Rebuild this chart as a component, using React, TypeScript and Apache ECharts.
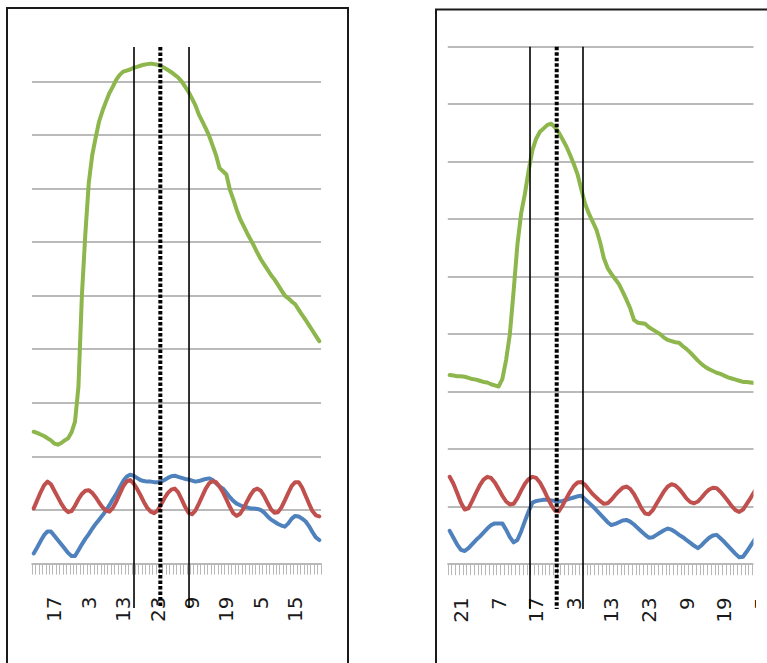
import React, { useEffect, useRef } from "react";
import * as echarts from "echarts";

// Hour-of-day categories (hourly samples)
const hoursLeft = [
  11, 12, 13, 14, 15, 16, 17, 18, 19, 20, 21, 22, 23,
  0, 1, 2, 3, 4, 5, 6, 7, 8, 9, 10, 11, 12, 13, 14, 15, 16, 17, 18, 19, 20, 21, 22, 23,
  0, 1, 2, 3, 4, 5, 6, 7, 8, 9, 10, 11, 12, 13, 14, 15, 16, 17, 18, 19, 20, 21, 22, 23,
  0, 1, 2, 3, 4, 5, 6, 7, 8, 9, 10, 11, 12, 13, 14, 15, 16, 17, 18, 19, 20, 21, 22,
];
const hoursRight = [
  18, 19, 20, 21, 22, 23,
  0, 1, 2, 3, 4, 5, 6, 7, 8, 9, 10, 11, 12, 13, 14, 15, 16, 17, 18, 19, 20, 21, 22, 23,
  0, 1, 2, 3, 4, 5, 6, 7, 8, 9, 10, 11, 12, 13, 14, 15, 16, 17, 18, 19, 20, 21, 22, 23,
  0, 1, 2, 3, 4, 5, 6, 7, 8, 9, 10, 11, 12, 13, 14, 15, 16, 17, 18, 19, 20, 21, 22, 23,
  0, 1, 2, 3, 4, 5,
];

// Left panel series (gridline units)
const greenLeft = [
  2.46, 2.44, 2.41, 2.38, 2.34, 2.30, 2.24, 2.22, 2.25, 2.30,
  2.34, 2.45, 2.65, 3.30, 5.00, 6.15, 7.10, 7.62, 7.95, 8.25,
  8.45, 8.62, 8.78, 8.90, 9.03, 9.12, 9.18, 9.20, 9.22, 9.25,
  9.27, 9.29, 9.31, 9.32, 9.33, 9.32, 9.31, 9.28, 9.25, 9.21,
  9.17, 9.12, 9.07, 9.00, 8.90, 8.80, 8.68, 8.55, 8.38, 8.25,
  8.12, 7.98, 7.80, 7.62, 7.38, 7.32, 7.26, 6.98, 6.80, 6.60,
  6.43, 6.30, 6.17, 6.05, 5.93, 5.80, 5.68, 5.58, 5.48, 5.38,
  5.30, 5.20, 5.10, 5.00, 4.95, 4.89, 4.84, 4.74, 4.64, 4.55,
  4.45, 4.35, 4.25, 4.15,
];
const redLeft = [
  1.03, 1.18, 1.33, 1.46, 1.53, 1.48, 1.36, 1.24, 1.12, 1.02,
  0.96, 0.98, 1.08, 1.20, 1.30, 1.36, 1.37, 1.32, 1.24, 1.14,
  1.05, 0.99, 0.97, 1.04, 1.16, 1.30, 1.44, 1.53, 1.56, 1.50,
  1.40, 1.28, 1.15, 1.04, 0.97, 0.94, 0.99, 1.10, 1.22, 1.32,
  1.38, 1.40, 1.33, 1.20, 1.06, 0.95, 0.92, 0.99, 1.12, 1.26,
  1.40, 1.50, 1.54, 1.52, 1.44, 1.33, 1.20, 1.06, 0.94, 0.89,
  0.93, 1.03, 1.16, 1.28, 1.37, 1.40, 1.36, 1.26, 1.13, 1.01,
  0.95, 0.96, 1.05, 1.18, 1.32, 1.45, 1.52, 1.52, 1.42, 1.27,
  1.12, 0.98, 0.90, 0.88,
];
const blueLeft = [
  0.19, 0.30, 0.42, 0.53, 0.60, 0.60, 0.52, 0.44, 0.36, 0.28,
  0.20, 0.14, 0.14, 0.25, 0.36, 0.46, 0.55, 0.65, 0.74, 0.82,
  0.90, 0.99, 1.09, 1.20, 1.30, 1.42, 1.54, 1.62, 1.66, 1.64,
  1.60, 1.56, 1.54, 1.53, 1.53, 1.52, 1.52, 1.53, 1.56, 1.60,
  1.63, 1.64, 1.62, 1.60, 1.58, 1.57, 1.55, 1.53, 1.54, 1.56,
  1.58, 1.59, 1.56, 1.50, 1.44, 1.40, 1.32, 1.24, 1.17, 1.12,
  1.09, 1.06, 1.05, 1.03, 1.03, 1.02, 1.00, 0.95, 0.88, 0.82,
  0.78, 0.74, 0.71, 0.69, 0.75, 0.84, 0.89, 0.88, 0.84, 0.79,
  0.70, 0.59, 0.49, 0.44,
];

// Right panel series (the panel is cropped at its right edge in the source)
const greenRight = [
  3.29, 3.28, 3.27, 3.27, 3.26, 3.24, 3.22, 3.21, 3.19, 3.17,
  3.16, 3.13, 3.11, 3.09, 3.22, 3.55, 4.00, 4.75, 5.55, 6.10,
  6.44, 6.85, 7.20, 7.40, 7.52, 7.58, 7.64, 7.66, 7.60, 7.51,
  7.39, 7.27, 7.12, 6.96, 6.78, 6.52, 6.27, 6.10, 5.96, 5.82,
  5.60, 5.32, 5.15, 5.05, 4.96, 4.87, 4.74, 4.60, 4.45, 4.25,
  4.20, 4.19, 4.18, 4.12, 4.08, 4.04, 4.00, 3.94, 3.90, 3.88,
  3.86, 3.85, 3.79, 3.74, 3.68, 3.61, 3.54, 3.48, 3.43, 3.39,
  3.36, 3.33, 3.31, 3.28, 3.25, 3.23, 3.21, 3.19, 3.17, 3.17,
  3.16, 3.15, 3.15, 3.14,
];
const redRight = [
  1.52, 1.40, 1.24, 1.07, 0.95, 0.97, 1.10, 1.24, 1.37, 1.47,
  1.52, 1.50, 1.42, 1.31, 1.19, 1.09, 1.04, 1.05, 1.15, 1.28,
  1.40, 1.48, 1.52, 1.50, 1.42, 1.30, 1.16, 1.03, 0.93, 0.92,
  1.02, 1.14, 1.26, 1.36, 1.42, 1.43, 1.38, 1.30, 1.22, 1.16,
  1.10, 1.05, 1.06, 1.12, 1.20, 1.27, 1.33, 1.35, 1.31, 1.22,
  1.10, 0.97, 0.88, 0.87, 0.94, 1.05, 1.16, 1.27, 1.35, 1.39,
  1.37, 1.31, 1.23, 1.14, 1.08, 1.06, 1.09, 1.16, 1.24, 1.30,
  1.33, 1.32, 1.26, 1.18, 1.10, 1.01, 0.94, 0.91, 0.95, 1.05,
  1.15, 1.26, 1.36, 1.42,
];
const blueRight = [
  0.58, 0.46, 0.34, 0.25, 0.23, 0.28, 0.35, 0.42, 0.48, 0.55,
  0.62, 0.68, 0.71, 0.71, 0.71, 0.60, 0.47, 0.38, 0.42, 0.57,
  0.75, 0.92, 1.07, 1.10, 1.11, 1.12, 1.12, 1.11, 1.10, 1.09,
  1.10, 1.12, 1.14, 1.16, 1.18, 1.19, 1.13, 1.07, 1.01, 0.94,
  0.87, 0.80, 0.73, 0.68, 0.70, 0.73, 0.76, 0.77, 0.74, 0.69,
  0.63, 0.57, 0.51, 0.46, 0.47, 0.51, 0.55, 0.59, 0.62, 0.60,
  0.56, 0.51, 0.47, 0.42, 0.37, 0.32, 0.28, 0.33, 0.40, 0.46,
  0.50, 0.51, 0.45, 0.39, 0.32, 0.25, 0.18, 0.12, 0.13, 0.22,
  0.32, 0.42, 0.50, 0.55,
];

// Vertical marker positions (category index units): solid, dotted, solid
const markersLeft = [29.15, 36.8, 45.14];
const markersRight = [21.36, 28.46, 35.45];

const BLUE = "#4F81BD";
const RED = "#C0504D";
const GREEN = "#8DB64C";

export default function App() {
  const ref = useRef<HTMLDivElement>(null);

  useEffect(() => {
    const chart = echarts.init(ref.current as HTMLDivElement, null, { renderer: "svg" });

    const xAxisFor = (gridIndex: number, data: number[], labelPhase: number) => ({
      type: "category",
      gridIndex,
      data: data.map(String),
      boundaryGap: true,
      axisLine: { show: true, lineStyle: { color: "#a3a3a3", width: 1.5 } },
      axisTick: { show: true, interval: 0, length: 11, lineStyle: { color: "#b8b8b8", width: 1 } },
      axisLabel: {
        interval: (i: number) => i % 10 === labelPhase,
        rotate: 90,
        margin: 33,
        fontSize: 20,
        fontFamily: "DejaVu Sans",
        color: "#1a1a1a",
      },
      splitLine: { show: false },
    });

    const yAxisFor = (gridIndex: number, max: number, showMax: boolean) => ({
      type: "value",
      gridIndex,
      min: 0,
      max,
      interval: 1,
      axisLabel: { show: false },
      axisLine: { show: false },
      axisTick: { show: false },
      splitLine: {
        show: true,
        showMinLine: false,
        showMaxLine: showMax,
        lineStyle: { color: "#a3a3a3", width: 1.5 },
      },
    });

    const lineSeries = (idx: number, data: number[], color: string) => ({
      type: "line",
      xAxisIndex: idx,
      yAxisIndex: idx,
      data,
      symbol: "none",
      smooth: false,
      lineStyle: { color, width: 4, join: "round", cap: "round" },
      z: 3,
    });

    chart.setOption({
      animation: false,
      backgroundColor: "#ffffff",
      grid: [
        { left: 32, top: 47, width: 289, height: 516.6, outerBoundsMode: "none", containLabel: false },
        { left: 447.8, top: 46.7, width: 315.9, height: 517.5, outerBoundsMode: "none", containLabel: false },
      ],
      xAxis: [xAxisFor(0, hoursLeft, 6), xAxisFor(1, hoursRight, 3)],
      yAxis: [yAxisFor(0, 9.64, false), yAxisFor(1, 9, true)],
      series: [
        lineSeries(0, blueLeft, BLUE),
        lineSeries(0, redLeft, RED),
        lineSeries(0, greenLeft, GREEN),
        lineSeries(1, blueRight, BLUE),
        lineSeries(1, redRight, RED),
        lineSeries(1, greenRight, GREEN),
      ],
    });

    const xAt = (gridIndex: number, pos: number) => {
      const a = Math.floor(pos);
      const p0 = chart.convertToPixel({ gridIndex }, [a, 0]) as number[];
      const p1 = chart.convertToPixel({ gridIndex }, [a + 1, 0]) as number[];
      return p0[0] + (pos - a) * (p1[0] - p0[0]);
    };
    const yAt = (gridIndex: number, v: number) =>
      (chart.convertToPixel({ gridIndex }, [0, v]) as number[])[1];

    const markerLines = (gridIndex: number, positions: number[], top: number, bottom: number) =>
      positions.map((p, k) => {
        const x = xAt(gridIndex, p);
        const dotted = k === 1;
        return {
          type: "line",
          z: 50,
          silent: true,
          shape: { x1: x, y1: yAt(gridIndex, top), x2: x, y2: yAt(gridIndex, bottom) },
          style: {
            stroke: "#000",
            lineWidth: dotted ? 4 : 1.6,
            lineDash: dotted ? [3.5, 2] : null,
          },
        };
      });

    chart.setOption({
      graphic: [
        ...markerLines(0, markersLeft, 9.64, -0.83),
        ...markerLines(1, markersRight, 9.0, -0.78),
        {
          type: "rect",
          z: 60,
          silent: true,
          shape: { x: 753.5, y: 12, width: 20, height: 575 },
          style: { fill: "#ffffff", stroke: null },
        },
        {
          type: "rect",
          z: 60,
          silent: true,
          shape: { x: 756, y: 587, width: 20, height: 90 },
          style: { fill: "#ffffff", stroke: null },
        },
        {
          type: "rect",
          z: 70,
          silent: true,
          shape: { x: 7, y: 8, width: 341, height: 700 },
          style: { fill: null, stroke: "#1a1a1a", lineWidth: 2 },
        },
        {
          type: "rect",
          z: 70,
          silent: true,
          shape: { x: 436, y: 9.5, width: 400, height: 700 },
          style: { fill: null, stroke: "#1a1a1a", lineWidth: 2 },
        },
      ],
    });

    return () => chart.dispose();
  }, []);

  return (
    <div
      ref={ref}
      style={{ position: "fixed", left: 0, top: 0, width: 767, height: 663, background: "#fff" }}
    />
  );
}
